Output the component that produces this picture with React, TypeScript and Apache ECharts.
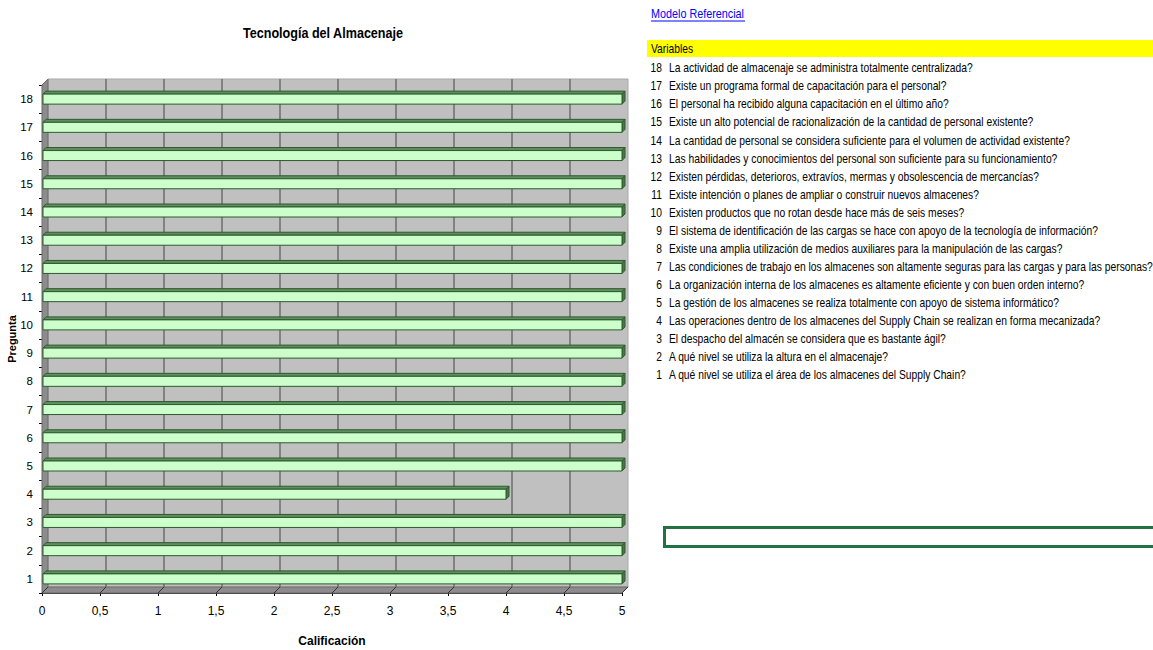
import React, { useEffect, useRef } from "react";
import * as echarts from "echarts";

const categories = ["1", "2", "3", "4", "5", "6", "7", "8", "9", "10", "11", "12", "13", "14", "15", "16", "17", "18"];
const scores = [5, 5, 5, 4, 5, 5, 5, 5, 5, 5, 5, 5, 5, 5, 5, 5, 5, 5];
const xTicks = [0, 0.5, 1, 1.5, 2, 2.5, 3, 3.5, 4, 4.5, 5];

const chartTitle = "Tecnología del Almacenaje";
const xName = "Calificación";
const yName = "Pregunta";
const linkText = "Modelo Referencial";
const headerText = "Variables";

const variableNumbers = ["18", "17", "16", "15", "14", "13", "12", "11", "10", "9", "8", "7", "6", "5", "4", "3", "2", "1"];
const variableTexts = [
  "La actividad de almacenaje se administra totalmente centralizada?",
  "Existe un programa formal de capacitación para el personal?",
  "El personal ha recibido alguna capacitación en el último año?",
  "Existe un alto potencial de racionalización de la cantidad de personal existente?",
  "La cantidad de personal se considera suficiente para el volumen de actividad existente?",
  "Las habilidades y conocimientos del personal son suficiente para su funcionamiento?",
  "Existen pérdidas, deterioros, extravíos, mermas y obsolescencia de mercancías?",
  "Existe intención o planes de ampliar o construir nuevos almacenes?",
  "Existen productos que no rotan desde hace más de seis meses?",
  "El sistema de identificación de las cargas se hace con apoyo de la tecnología de información?",
  "Existe una amplia utilización de medios auxiliares para la manipulación de las cargas?",
  "Las condiciones de trabajo en los almacenes son altamente seguras para las cargas y para las personas?",
  "La organización interna de los almacenes es altamente eficiente y con buen orden interno?",
  "La gestión de los almacenes se realiza totalmente con apoyo de sistema informático?",
  "Las operaciones dentro de los almacenes del Supply Chain se realizan en forma mecanizada?",
  "El despacho del almacén se considera que es bastante ágil?",
  "A qué nivel se utiliza la altura en el almacenaje?",
  "A qué nivel se utiliza el área de los almacenes del Supply Chain?",
];

const FONT = "'Liberation Sans', Arial, sans-serif";
const SX = 0.858;

export default function App() {
  const ref = useRef<HTMLDivElement>(null);

  useEffect(() => {
    if (!ref.current) return;
    const chart = echarts.init(ref.current, undefined, { renderer: "svg" });
    const DX = 6;
    const DY = 6;
    const BD = 3;

    const listGraphics: any[] = [];
    variableTexts.forEach((t, i) => {
      const y = 68 + i * 18.06;
      listGraphics.push({
        type: "text",
        x: 662,
        y,
        scaleX: SX,
        style: { text: variableNumbers[i], font: `12px ${FONT}`, fill: "#000", align: "right", verticalAlign: "middle" },
      });
      listGraphics.push({
        type: "text",
        x: 669,
        y,
        scaleX: SX,
        style: { text: t, font: `12px ${FONT}`, fill: "#000", align: "left", verticalAlign: "middle" },
      });
    });

    const option: any = {
      animation: false,
      backgroundColor: "#ffffff",
      grid: { left: 42, top: 85, width: 580, height: 508, containLabel: false, outerBoundsMode: "none" },
      xAxis: {
        type: "value",
        min: 0,
        max: 5,
        interval: 0.5,
        name: xName,
        nameLocation: "middle",
        nameGap: 42,
        nameMoveOverlap: false,
        nameTextStyle: { fontFamily: FONT, fontWeight: "bold", fontSize: 12, color: "#000" },
        axisLine: { show: true, lineStyle: { color: "#333", width: 1 } },
        axisTick: { show: true, length: 3, lineStyle: { color: "#000" } },
        axisLabel: {
          margin: 12,
          fontFamily: FONT,
          fontSize: 12,
          color: "#000",
          formatter: (v: number) => String(v).replace(".", ","),
        },
        splitLine: { show: false },
      },
      yAxis: {
        type: "category",
        data: categories,
        name: yName,
        nameLocation: "middle",
        nameGap: 25,
        nameMoveOverlap: false,
        nameTextStyle: { fontFamily: FONT, fontWeight: "bold", fontSize: 11, color: "#000" },
        axisLine: { show: true, lineStyle: { color: "#000", width: 1 } },
        axisTick: { show: true, length: 3, lineStyle: { color: "#000" } },
        axisLabel: { margin: 9, fontFamily: FONT, fontSize: 11.5, color: "#000" },
        splitLine: { show: false },
      },
      series: [
        {
          type: "custom",
          name: "walls",
          z: 1,
          silent: true,
          clip: false,
          data: [[0, 0]],
          renderItem: (params: any, api: any) => {
            const cs = params.coordSys;
            const left = cs.x;
            const top = cs.y;
            const right = cs.x + cs.width;
            const bottom = cs.y + cs.height;
            const children: any[] = [];
            children.push({
              type: "rect",
              shape: { x: left + DX, y: top - DY, width: cs.width, height: cs.height },
              style: { fill: "#c0c0c0", stroke: "#a8a8a8", lineWidth: 1 },
            });
            children.push({
              type: "polygon",
              shape: { points: [[left, top], [left + DX, top - DY], [left + DX, bottom - DY], [left, bottom]] },
              style: { fill: "#8c8c8c", stroke: "#6a6a6a", lineWidth: 1 },
            });
            children.push({
              type: "polygon",
              shape: { points: [[left, bottom], [left + DX, bottom - DY], [right + DX, bottom - DY], [right, bottom]] },
              style: { fill: "#8c8c8c", stroke: "#6a6a6a", lineWidth: 1 },
            });
            xTicks.forEach((v) => {
              const x = api.coord([v, 0])[0];
              if (v > 0 && v < 5) {
                children.push({
                  type: "line",
                  shape: { x1: x + DX, y1: top - DY, x2: x + DX, y2: bottom - DY },
                  style: { stroke: "#6e6e6e", lineWidth: 1.5 },
                });
              }
              children.push({
                type: "line",
                shape: { x1: x, y1: bottom, x2: x + DX, y2: bottom - DY },
                style: { stroke: "#333", lineWidth: 1 },
              });
            });
            return { type: "group", children };
          },
        },
        {
          type: "custom",
          name: "Calificación",
          z: 2,
          clip: false,
          data: scores.map((s, i) => [s, i]),
          encode: { x: 0, y: 1 },
          renderItem: (params: any, api: any) => {
            const val = api.value(0);
            const idx = api.value(1);
            const p0 = api.coord([0, idx]);
            const p1 = api.coord([val, idx]);
            const x0 = p0[0] + 1;
            const x1 = p1[0];
            const yc = p0[1];
            const h = 10;
            const yt = yc - h / 2;
            const yb = yc + h / 2;
            return {
              type: "group",
              children: [
                {
                  type: "polygon",
                  shape: { points: [[x0, yt], [x0 + BD, yt - BD], [x1 + BD, yt - BD], [x1, yt]] },
                  style: { fill: "#5f8f5f", stroke: "#2e5a2e", lineWidth: 1 },
                },
                {
                  type: "polygon",
                  shape: { points: [[x1, yt], [x1 + BD, yt - BD], [x1 + BD, yb - BD], [x1, yb]] },
                  style: { fill: "#4a774a", stroke: "#2e5a2e", lineWidth: 1 },
                },
                {
                  type: "rect",
                  shape: { x: x0, y: yt, width: x1 - x0, height: h },
                  style: { fill: "#ccffcc", stroke: "#2e5a2e", lineWidth: 1 },
                },
              ],
            };
          },
        },
      ],
      graphic: [
        {
          type: "text",
          x: 323,
          y: 33,
          scaleX: 0.9,
          style: { text: chartTitle, font: `bold 14px ${FONT}`, fill: "#000", align: "center", verticalAlign: "middle" },
        },
        {
          type: "text",
          x: 651,
          y: 14,
          scaleX: 0.9,
          style: { text: linkText, font: `12px ${FONT}`, fill: "#0000ff", align: "left", verticalAlign: "middle" },
        },
        {
          type: "line",
          shape: { x1: 651, y1: 21, x2: 745, y2: 21 },
          style: { stroke: "#0000ff", lineWidth: 1 },
        },
        {
          type: "rect",
          shape: { x: 647, y: 40, width: 506, height: 17 },
          style: { fill: "#ffff00" },
        },
        {
          type: "text",
          x: 651,
          y: 49,
          scaleX: SX,
          style: { text: headerText, font: `12px ${FONT}`, fill: "#000", align: "left", verticalAlign: "middle" },
        },
        ...listGraphics,
        {
          type: "rect",
          shape: { x: 664.5, y: 527.5, width: 500, height: 19 },
          style: { fill: "none", stroke: "#217346", lineWidth: 3 },
        },
      ],
    };

    chart.setOption(option);
    return () => chart.dispose();
  }, []);

  return <div ref={ref} style={{ position: "absolute", left: 0, top: 0, width: 1153, height: 650 }} />;
}
